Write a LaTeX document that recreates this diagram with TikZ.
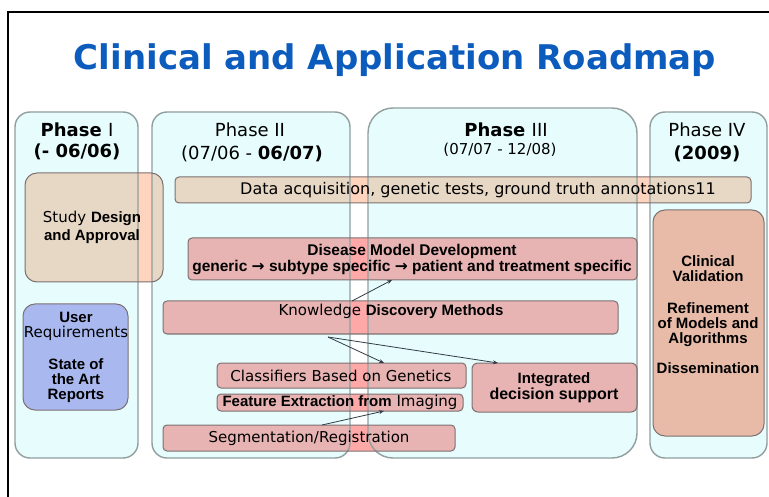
\documentclass[tikz,border=0pt]{standalone}
\usepackage{fontspec}
\setmainfont{DejaVu Sans}
\newfontfamily\arialfam{Liberation Sans}
\newfontfamily\dejafam{DejaVu Sans}
\usetikzlibrary{arrows.meta,calc}
\pgfdeclarelayer{bgwhite}
\pgfdeclarelayer{boxfill}
\pgfdeclarelayer{tint}
\pgfsetlayers{bgwhite,boxfill,tint,main}
\definecolor{titleblue}{RGB}{12,92,190}
\definecolor{panelT}{RGB}{100,245,245}
\definecolor{panelline}{RGB}{145,158,158}
\definecolor{boxline}{RGB}{125,112,112}
\definecolor{tanC}{RGB}{255,212,190}
\definecolor{pinkC}{RGB}{255,168,168}
\definecolor{salmonC}{RGB}{255,178,155}
\definecolor{blueC}{RGB}{182,174,239}
\definecolor{arrowC}{RGB}{50,60,70}
\newcommand\AB[1]{{\arialfam\bfseries #1}}
\newcommand\RA{{\dejafam\bfseries →}}
\begin{document}
\begin{tikzpicture}[x=1pt,y=-1pt,
  panel/.style={draw=panelline, line width=1.4pt, fill=panelT, fill opacity=0.15, inner sep=0, outer sep=0},
  rbox/.style={draw=boxline, line width=1pt, inner sep=0, outer sep=0, rounded corners=4pt},
  txt/.style={inner sep=0, font=\fontsize{15}{15}\selectfont, align=center},
  hdr/.style={inner sep=0, font=\fontsize{18}{18}\selectfont, anchor=base},
  conn/.style={draw=arrowC, line width=0.8pt, -{Stealth[length=5pt,width=4pt]}}]
\useasboundingbox (0,0) rectangle (769,497);
\begin{pgfonlayer}{bgwhite}
\fill[white] (0,0) rectangle (769,497);
\end{pgfonlayer}
\draw[line width=2pt] (8,497) -- (8,12) -- (769,12);

% title
\node[inner sep=0, anchor=base, text=titleblue, font=\fontsize{34}{40}\selectfont\bfseries] (title) at (395,70) {Clinical and Application Roadmap};

% panels (tint layer)
\begin{pgfonlayer}{tint}
\node[panel, rounded corners=15pt, minimum width=123pt, minimum height=346pt] (p1) at (76.5,285) {};
\node[panel, rounded corners=15pt, minimum width=198pt, minimum height=346pt] (p2) at (251,285) {};
\node[panel, rounded corners=25pt, minimum width=269pt, minimum height=350pt] (p3) at (502.5,283) {};
\node[panel, rounded corners=15pt, minimum width=117pt, minimum height=346pt] (p4) at (708.5,285) {};
\end{pgfonlayer}

% boxes (outline in main layer)
\node[rbox, rounded corners=12pt, minimum width=138pt, minimum height=109pt] (study) at (94,227.5) {};
\node[rbox, minimum width=576pt, minimum height=26pt] (data) at (463,190) {};
\node[rbox, minimum width=449pt, minimum height=42pt] (disease) at (412.5,259) {};
\node[rbox, minimum width=455pt, minimum height=33pt] (know) at (390.5,317.5) {};
\node[rbox, minimum width=249pt, minimum height=25pt] (class) at (341.5,375.5) {};
\node[rbox, minimum width=246pt, minimum height=17pt] (feat) at (340,402.5) {};
\node[rbox, minimum width=292pt, minimum height=26pt] (seg) at (309,438) {};
\node[rbox, rounded corners=6pt, minimum width=165pt, minimum height=49pt] (integ) at (554.5,387.5) {};
\node[rbox, rounded corners=12pt, minimum width=105pt, minimum height=106pt] (user) at (75.5,357) {};
\node[rbox, rounded corners=12pt, minimum width=111pt, minimum height=226pt] (clin) at (708.5,323) {};

\begin{pgfonlayer}{boxfill}
\foreach \n/\c/\r in {study/tanC/12pt, data/tanC/4pt, disease/pinkC/4pt, know/pinkC/4pt,
  class/pinkC/4pt, feat/pinkC/4pt, seg/pinkC/4pt, integ/pinkC/6pt, user/blueC/12pt, clin/salmonC/12pt}
  \fill[\c, rounded corners=\r] (\n.south west) rectangle (\n.north east);
\end{pgfonlayer}

% headers
\node[hdr] (h1a) at (77,137) {\bfseries Phase \mdseries I};
\node[hdr] (h1b) at (77,158) {\bfseries (- 06/06)};
\node[hdr] (h2a) at (250,137) {Phase II};
\node[hdr] (h2b) at (252,160) {(07/06 - \textbf{06/07)}};
\node[hdr] (h3a) at (506,137) {\bfseries Phase \mdseries III};
\node[hdr, font=\fontsize{15}{15}\selectfont] (h3b) at (500,155) {(07/07 - 12/08)};
\node[hdr] (h4a) at (707,137) {Phase IV};
\node[hdr] (h4b) at (707,160) {\bfseries (2009)};

% box texts
\node[txt, font=\fontsize{15}{18}\selectfont] (tstudy) at (92,227) {Study \AB{Design}\\\AB{and Approval}};
\node[txt, font=\fontsize{16}{16}\selectfont] (tdata) at (478,190) {Data acquisition, genetic tests, ground truth annotations11};
\node[txt, font=\fontsize{15.5}{16}\selectfont] (tdisease) at (412,260) {\AB{Disease Model Development}\\\AB{generic \RA{} subtype specific \RA{} patient and treatment specific}};
\node[txt] (tknow) at (391,311) {Knowledge \AB{Discovery Methods}};
\node[txt] (tclass) at (341,376) {Classifiers Based on Genetics};
\node[txt] (tfeat) at (340,402) {\AB{Feature Extraction from} Imaging};
\node[txt] (tseg) at (309,438) {Segmentation/Registration};
\node[txt, font=\fontsize{15}{16}\selectfont] (tinteg) at (554,388) {\AB{Integrated}\\{\fontsize{16}{16}\selectfont\AB{decision support}}};
\node[txt] (tuser) at (76,357) {\AB{User}\\Requirements\\[17pt]\AB{State of}\\\AB{the Art}\\\AB{Reports}};
\node[txt] (tclin) at (708,315) {\AB{Clinical}\\\AB{Validation}\\[17pt]\AB{Refinement}\\\AB{of Models and}\\\AB{Algorithms}\\[15pt]\AB{Dissemination}};

% connectors
\draw[conn] ([xshift=-38.5pt]know.north) -- ([xshift=-20.5pt]disease.south);
\draw[conn] ([xshift=-62.5pt,yshift=-3pt]know.south) -- ([xshift=42.5pt]class.north);
\draw[conn] ([xshift=-62.5pt,yshift=-3pt]know.south) -- ([xshift=-56.5pt]integ.north);
\draw[conn] ([xshift=13pt]seg.north) -- ([xshift=44pt]feat.south);
\end{tikzpicture}
\end{document}
